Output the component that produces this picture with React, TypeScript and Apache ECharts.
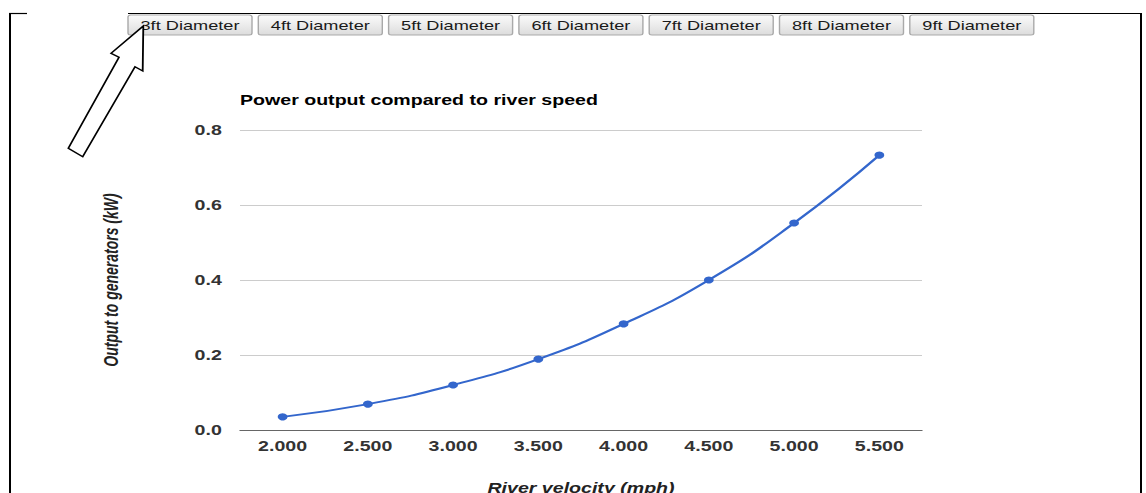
import React, { useEffect, useRef } from "react";
import * as echarts from "echarts";

const velocities = ["2.000", "2.500", "3.000", "3.500", "4.000", "4.500", "5.000", "5.500"];
const outputKW = [0.035, 0.069, 0.12, 0.189, 0.283, 0.4, 0.552, 0.733];
const buttonLabels = [
  "3ft Diameter",
  "4ft Diameter",
  "5ft Diameter",
  "6ft Diameter",
  "7ft Diameter",
  "8ft Diameter",
  "9ft Diameter",
];
const titleText = "Power output compared to river speed";
const xName = "River velocity (mph)";
const yName = "Output to generators (kW)";

const PAGE_W = 1146;
const PAGE_H = 493;
const INNER_W = 819;
const S = PAGE_W / INNER_W;
const X = (v: number) => v / S;
const FONT = "Arial, 'Liberation Sans', sans-serif";

export default function App() {
  const ref = useRef<HTMLDivElement>(null);

  useEffect(() => {
    if (!ref.current) return;
    const chart = echarts.init(ref.current, undefined, { renderer: "svg" });

    const buttons: any[] = buttonLabels.map((label, i) => ({
      type: "group",
      x: X(128 + i * 130.3),
      y: 15,
      children: [
        {
          type: "rect",
          shape: { x: 0, y: 0, width: X(124), height: 20, r: 2 },
          style: {
            fill: new echarts.graphic.LinearGradient(0, 0, 0, 1, [
              { offset: 0, color: "#fbfbfb" },
              { offset: 1, color: "#dcdcdc" },
            ]),
            stroke: "#a9a9a9",
            lineWidth: 1,
          },
        },
        {
          type: "text",
          x: X(62),
          y: 10,
          style: {
            text: label,
            fontSize: 13,
            fontFamily: FONT,
            fill: "#1a1a1a",
            align: "center",
            verticalAlign: "middle",
          },
        },
      ],
    }));

    const arrowPts = [
      [143.3, 26],
      [111, 53.3],
      [119, 57.3],
      [68.3, 148.3],
      [82.7, 156.7],
      [135, 66.7],
      [142.7, 71],
    ].map((p) => [X(p[0]), p[1]]);

    const frame: any[] = [
      { type: "line", shape: { x1: X(10), y1: 13, x2: X(10), y2: PAGE_H }, style: { stroke: "#000", lineWidth: 2 / S } },
      { type: "line", shape: { x1: X(9), y1: 13.5, x2: X(27), y2: 13.5 }, style: { stroke: "#000", lineWidth: 1.2 } },
      { type: "line", shape: { x1: X(128), y1: 13.5, x2: X(1142), y2: 13.5 }, style: { stroke: "#000", lineWidth: 1.2 } },
      { type: "line", shape: { x1: X(1141), y1: 13, x2: X(1141), y2: PAGE_H }, style: { stroke: "#000", lineWidth: 2 / S } },
      {
        type: "polygon",
        shape: { points: arrowPts },
        style: { fill: "#fff", stroke: "#000", lineWidth: 1.3 },
        z: 100,
      },
    ];

    chart.setOption({
      animation: false,
      title: {
        text: titleText,
        left: X(240),
        top: 93,
        padding: 0,
        textStyle: { fontSize: 14, fontWeight: "bold", fontFamily: FONT, color: "#000" },
      },
      grid: {
        left: X(240),
        right: INNER_W - X(922),
        top: 130,
        bottom: PAGE_H - 430,
        containLabel: false,
        outerBoundsMode: "none",
      },
      xAxis: {
        type: "category",
        data: velocities,
        boundaryGap: true,
        axisLine: { show: true, lineStyle: { color: "#666", width: 1 } },
        axisTick: { show: false },
        axisLabel: {
          margin: 9,
          fontSize: 14,
          fontWeight: "bold",
          fontFamily: FONT,
          color: "#333",
        },
        splitLine: { show: false },
        name: xName,
        nameLocation: "middle",
        nameGap: 51,
        nameTextStyle: {
          fontSize: 14,
          fontWeight: "bold",
          fontStyle: "italic",
          fontFamily: FONT,
          color: "#222",
        },
      },
      yAxis: {
        type: "value",
        min: 0,
        max: 0.8,
        interval: 0.2,
        axisLine: { show: false },
        axisTick: { show: false },
        axisLabel: {
          margin: 13,
          fontSize: 14,
          fontWeight: "bold",
          fontFamily: FONT,
          color: "#333",
          formatter: (v: number) => v.toFixed(1),
        },
        splitLine: { show: true, lineStyle: { color: "#cccccc", width: 1 } },
        name: yName,
        nameLocation: "middle",
        nameRotate: 90,
        nameGap: X(240) - X(121),
        nameTextStyle: {
          fontSize: 14,
          fontWeight: "bold",
          fontStyle: "italic",
          fontFamily: FONT,
          color: "#222",
        },
      },
      series: [
        {
          type: "line",
          data: outputKW,
          smooth: true,
          symbol: "circle",
          symbolSize: 7,
          showSymbol: true,
          lineStyle: { color: "#3366cc", width: 2 },
          itemStyle: { color: "#3366cc" },
          z: 5,
        },
      ],
      graphic: [...frame, ...buttons],
    });

    return () => chart.dispose();
  }, []);

  return (
    <div
      style={{
        position: "absolute",
        left: 0,
        top: 0,
        width: PAGE_W,
        height: PAGE_H,
        overflow: "hidden",
        background: "#fff",
      }}
    >
      <div
        ref={ref}
        style={{
          width: INNER_W,
          height: PAGE_H,
          transform: `scaleX(${S})`,
          transformOrigin: "0 0",
        }}
      />
    </div>
  );
}
